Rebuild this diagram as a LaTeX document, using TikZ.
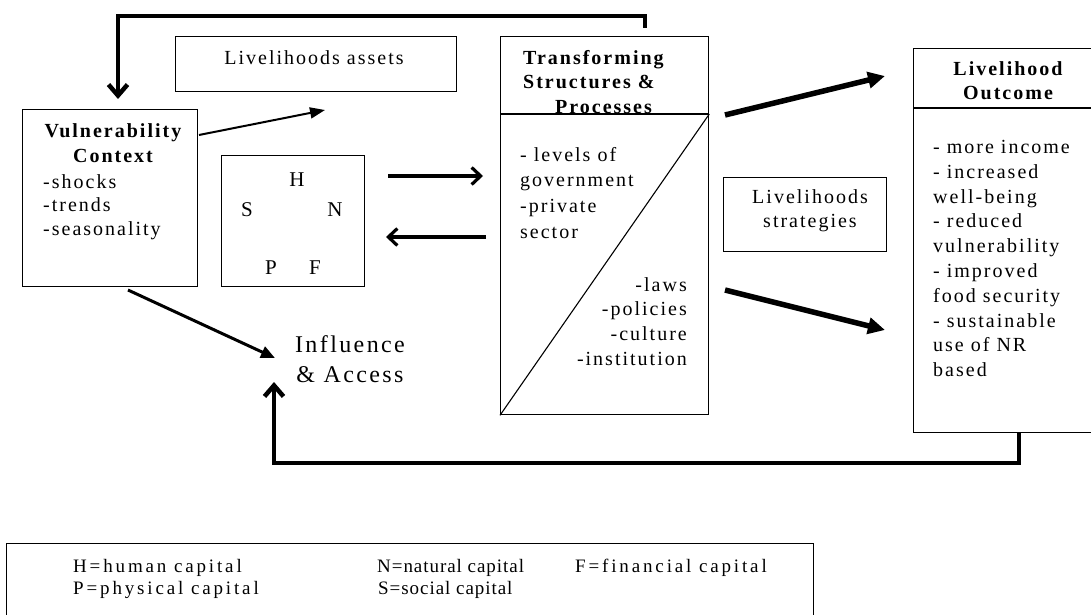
\documentclass[tikz,border=0pt]{standalone}
\usepackage{fontspec}
\setmainfont{Liberation Serif}[LetterSpace=10]
\usetikzlibrary{arrows.meta,calc}

\begin{document}
\begin{tikzpicture}[x=1pt,y=-1pt,
  box/.style={draw, line width=1.3pt, inner sep=0pt, anchor=north west},
  txt/.style={inner sep=0pt, font=\fontsize{20}{24.8}\selectfont},
  bigtxt/.style={inner sep=0pt, font=\fontsize{24}{30}\selectfont},
  keytxt/.style={inner sep=0pt, anchor=north west,
    font=\fontsize{19}{22}\selectfont\addfontfeature{LetterSpace=15}},
  keytight/.style={keytxt, font=\fontsize{19}{22}\selectfont\addfontfeature{LetterSpace=5}},
  capital/.style={inner sep=0pt, font=\fontsize{21}{24}\selectfont\addfontfeature{LetterSpace=0}},
  feedback/.style={line width=4.5pt, -{Straight Barb[length=11pt,width=19pt]}},
  flowarrow/.style={line width=3.2pt, -{Straight Barb[length=9pt,width=17pt]}},
  thinarrow/.style={line width=2pt, -{Triangle[length=15pt,width=11pt]}},
  midarrow/.style={line width=3pt, -{Triangle[length=14pt,width=12pt]}},
  heavyarrow/.style={line width=5.5pt, -{Triangle[length=17pt,width=16pt]}}
]
\useasboundingbox (0,0) rectangle (1091,615);

% ---- boxes ----
\node[box, minimum width=175pt, minimum height=177pt] (vc) at (22,109) {};
\node[box, minimum width=143pt, minimum height=131pt] (hs) at (221,155) {};
\node[box, minimum width=281pt, minimum height=55pt] (assets) at (175,36) {};
\node[box, minimum width=208pt, minimum height=378pt] (tsp) at (500,36) {};
\node[box, minimum width=163pt, minimum height=74pt] (strat) at (723,177) {};
\node[box, minimum width=181pt, minimum height=384pt] (out) at (913,48) {};
\node[box, minimum width=807pt, minimum height=90pt] (key) at (6,543) {};

% dividers inside the structures box and the outcome box
\coordinate (tspL) at ([yshift=-78pt]tsp.north west);
\coordinate (tspR) at ([yshift=-78pt]tsp.north east);
\draw[line width=1.3pt] (tspL) -- (tspR);
\draw[line width=1.1pt] (tsp.south west) -- (tspR);
\coordinate (outL) at ([yshift=-60pt]out.north west);
\coordinate (outR) at ([yshift=-60pt]out.north east);
\draw[line width=1.3pt] (outL) -- (outR);

% ---- texts ----
\node[txt, anchor=north, align=center, font=\fontsize{20}{25.5}\selectfont\bfseries] (vctitle) at (113,123) {Vulnerability\\Context};
\node[txt, anchor=north west, align=left, font=\fontsize{20}{23.8}\selectfont] (vcbody) at (43,174) {-shocks\\-trends\\-seasonality};

\node[txt, anchor=center] (assetslabel) at (314,58) {Livelihoods assets};

\node[capital] (capH) at (297,180) {H};
\node[capital] (capS) at (247,210) {S};
\node[capital] (capN) at (335,210) {N};
\node[capital] (capP) at (271,268) {P};
\node[capital] (capF) at (315,268) {F};

\node[txt, anchor=north west, align=left, font=\fontsize{20}{24.5}\selectfont\bfseries] (tsptitle) at (523,50) {Transforming\\Structures \&\\\hspace*{32pt}Processes};
\node[txt, anchor=north west, align=left, font=\fontsize{20}{25.6}\selectfont] (tspup) at (520,147) {- levels of\\government\\-private\\sector};
\node[txt, anchor=north east, align=right, font=\fontsize{20}{24.7}\selectfont] (tsplow) at (687,277) {-laws\\-policies\\-culture\\-institution};

\node[txt, anchor=north, align=center] (stratlabel) at (810,189) {Livelihoods\\strategies};

\node[txt, anchor=north, align=center, font=\fontsize{20}{24}\selectfont\bfseries] (outtitle) at (1008,61) {Livelihood\\Outcome};
\node[txt, anchor=north west, align=left] (outbody) at (933,140) {- more income\\- increased\\well-being\\- reduced\\vulnerability\\- improved\\food security\\- sustainable\\use of NR\\based};

\node[bigtxt, anchor=north, align=center] (infl) at (350,335) {Influence\\\& Access};

\node[keytxt] (keyH) at (73,559) {H=human capital};
\node[keytxt] (keyP) at (73,581) {P=physical capital};
\node[keytight] (keyN) at (377,559) {N=natural capital};
\node[keytight] (keyS) at (378,581) {S=social capital};
\node[keytxt] (keyF) at (575,559) {F=financial capital};

% ---- connector end points ----
\coordinate (fbTopStart) at (645,28);
\coordinate (fbTopEnd) at (118,99);
\coordinate (fbBotStart) at (1019,432);
\coordinate (fbBotEnd) at (274,382);
\coordinate (vcOut) at (199,135);
\coordinate (assetsIn) at (325,110);
\coordinate (vcLow) at (128,290);
\coordinate (inflIn) at (275,358);
\coordinate (hsR) at (388,176);
\coordinate (tspLin) at (483,176);
\coordinate (tspLout) at (486,237);
\coordinate (hsRin) at (386,237);
\coordinate (tspA) at (725,115);
\coordinate (outA) at (885,76);
\coordinate (tspB) at (725,290);
\coordinate (outB) at (885,330);

% ---- connectors ----
\draw[feedback] (fbTopStart) -- ++(0,-12) -| (fbTopEnd);
\draw[feedback] (fbBotStart) -- ++(0,31) -| (fbBotEnd);
\draw[thinarrow] (vcOut) -- (assetsIn);
\draw[midarrow] (vcLow) -- (inflIn);
\draw[flowarrow] (hsR) -- (tspLin);
\draw[flowarrow] (tspLout) -- (hsRin);
\draw[heavyarrow] (tspA) -- (outA);
\draw[heavyarrow] (tspB) -- (outB);
\end{tikzpicture}
\end{document}
